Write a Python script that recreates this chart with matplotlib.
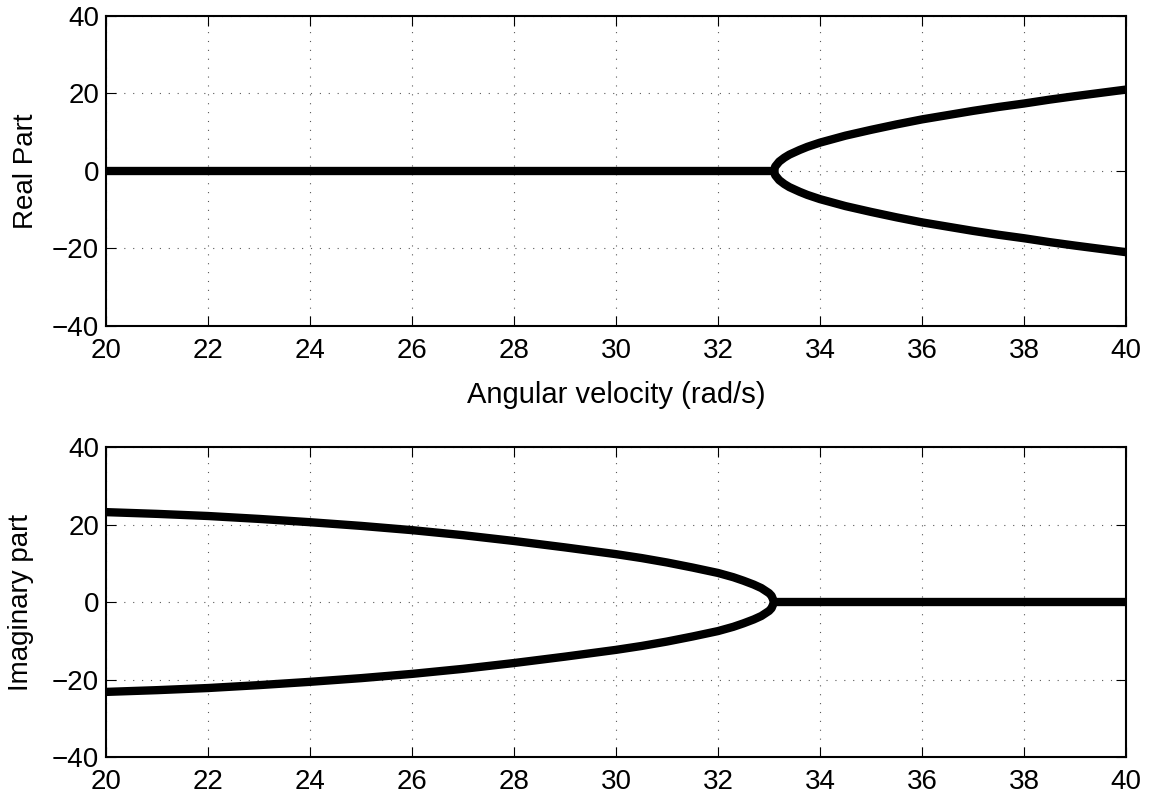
import matplotlib
matplotlib.use("Agg")
import matplotlib.pyplot as plt

plt.rcParams['font.family'] = ['Liberation Sans', 'DejaVu Sans']

# eigenvalue branches vs. angular velocity (rad/s)
w_zero_re = [20.0, 33.1]
re_zero = [0.0, 0.0]
w_branch_re = [33.1, 33.12, 33.2, 33.3, 33.4, 33.5, 33.6, 33.75, 34.0, 34.5, 35.0, 35.5,
               36.0, 36.5, 37.0, 37.5, 38.0, 38.5, 39.0, 39.5, 40.0]
re_upper = [0.0, 1.1, 2.4, 3.4, 4.2, 4.8, 5.4, 6.2, 7.3, 9.1, 10.6, 12.0,
            13.3, 14.4, 15.5, 16.5, 17.4, 18.4, 19.3, 20.15, 21.0]
re_lower = [0.0, -1.1, -2.4, -3.4, -4.2, -4.8, -5.4, -6.2, -7.3, -9.1, -10.6, -12.0,
            -13.3, -14.4, -15.5, -16.5, -17.4, -18.4, -19.3, -20.15, -21.0]

w_branch_im = [20.0, 21.0, 22.0, 23.0, 24.0, 25.0, 26.0, 27.0, 28.0, 29.0, 30.0, 30.5,
               31.0, 31.5, 32.0, 32.3, 32.5, 32.7, 32.85, 33.0, 33.05, 33.1]
im_upper = [23.2, 22.75, 22.2, 21.45, 20.6, 19.65, 18.55, 17.25, 15.75, 14.1, 12.35, 11.35,
            10.2, 8.9, 7.5, 6.4, 5.5, 4.5, 3.6, 2.3, 1.6, 0.0]
im_lower = [-23.2, -22.75, -22.2, -21.45, -20.6, -19.65, -18.55, -17.25, -15.75, -14.1, -12.35, -11.35,
            -10.2, -8.9, -7.5, -6.4, -5.5, -4.5, -3.6, -2.3, -1.6, 0.0]
w_zero_im = [33.1, 40.0]
im_zero = [0.0, 0.0]

xticks = [20, 22, 24, 26, 28, 30, 32, 34, 36, 38, 40]
yticks = [-40, -20, 0, 20, 40]

fig = plt.figure(figsize=(11.6, 7.97), dpi=100)
ax1 = fig.add_axes([0.0914, 0.5913, 0.8793, 0.3886])
ax2 = fig.add_axes([0.0914, 0.0502, 0.8793, 0.3889])

line_kw = dict(color='black', lw=6.0, solid_capstyle='round', solid_joinstyle='round')


def style_axes(ax):
    ax.set_xlim(20, 40)
    ax.set_ylim(-40, 40)
    ax.set_xticks(xticks)
    ax.set_yticks(yticks)
    ax.grid(True, color='0.35', lw=0.8, linestyle=(0, (1, 7)))
    ax.tick_params(direction='in', length=7, width=0.8, top=True, right=True,
                   labelsize=20, pad=9)
    ax.tick_params(axis='y', pad=5)
    for s in ax.spines.values():
        s.set_linewidth(1.5)
    ax.set_axisbelow(True)


ax1.plot(w_zero_re, re_zero, **line_kw)
ax1.plot(w_branch_re, re_upper, **line_kw)
ax1.plot(w_branch_re, re_lower, **line_kw)
style_axes(ax1)
ax1.set_xlabel('Angular velocity (rad/s)', fontsize=21, labelpad=12)
ax1.set_ylabel('Real Part', fontsize=20)
ax1.yaxis.set_label_coords(-0.066, 0.5)

ax2.plot(w_branch_im, im_upper, **line_kw)
ax2.plot(w_branch_im, im_lower, **line_kw)
ax2.plot(w_zero_im, im_zero, **line_kw)
style_axes(ax2)
ax2.set_ylabel('Imaginary part', fontsize=20)
ax2.yaxis.set_label_coords(-0.071, 0.5)

fig.savefig('out.png', dpi=100)
